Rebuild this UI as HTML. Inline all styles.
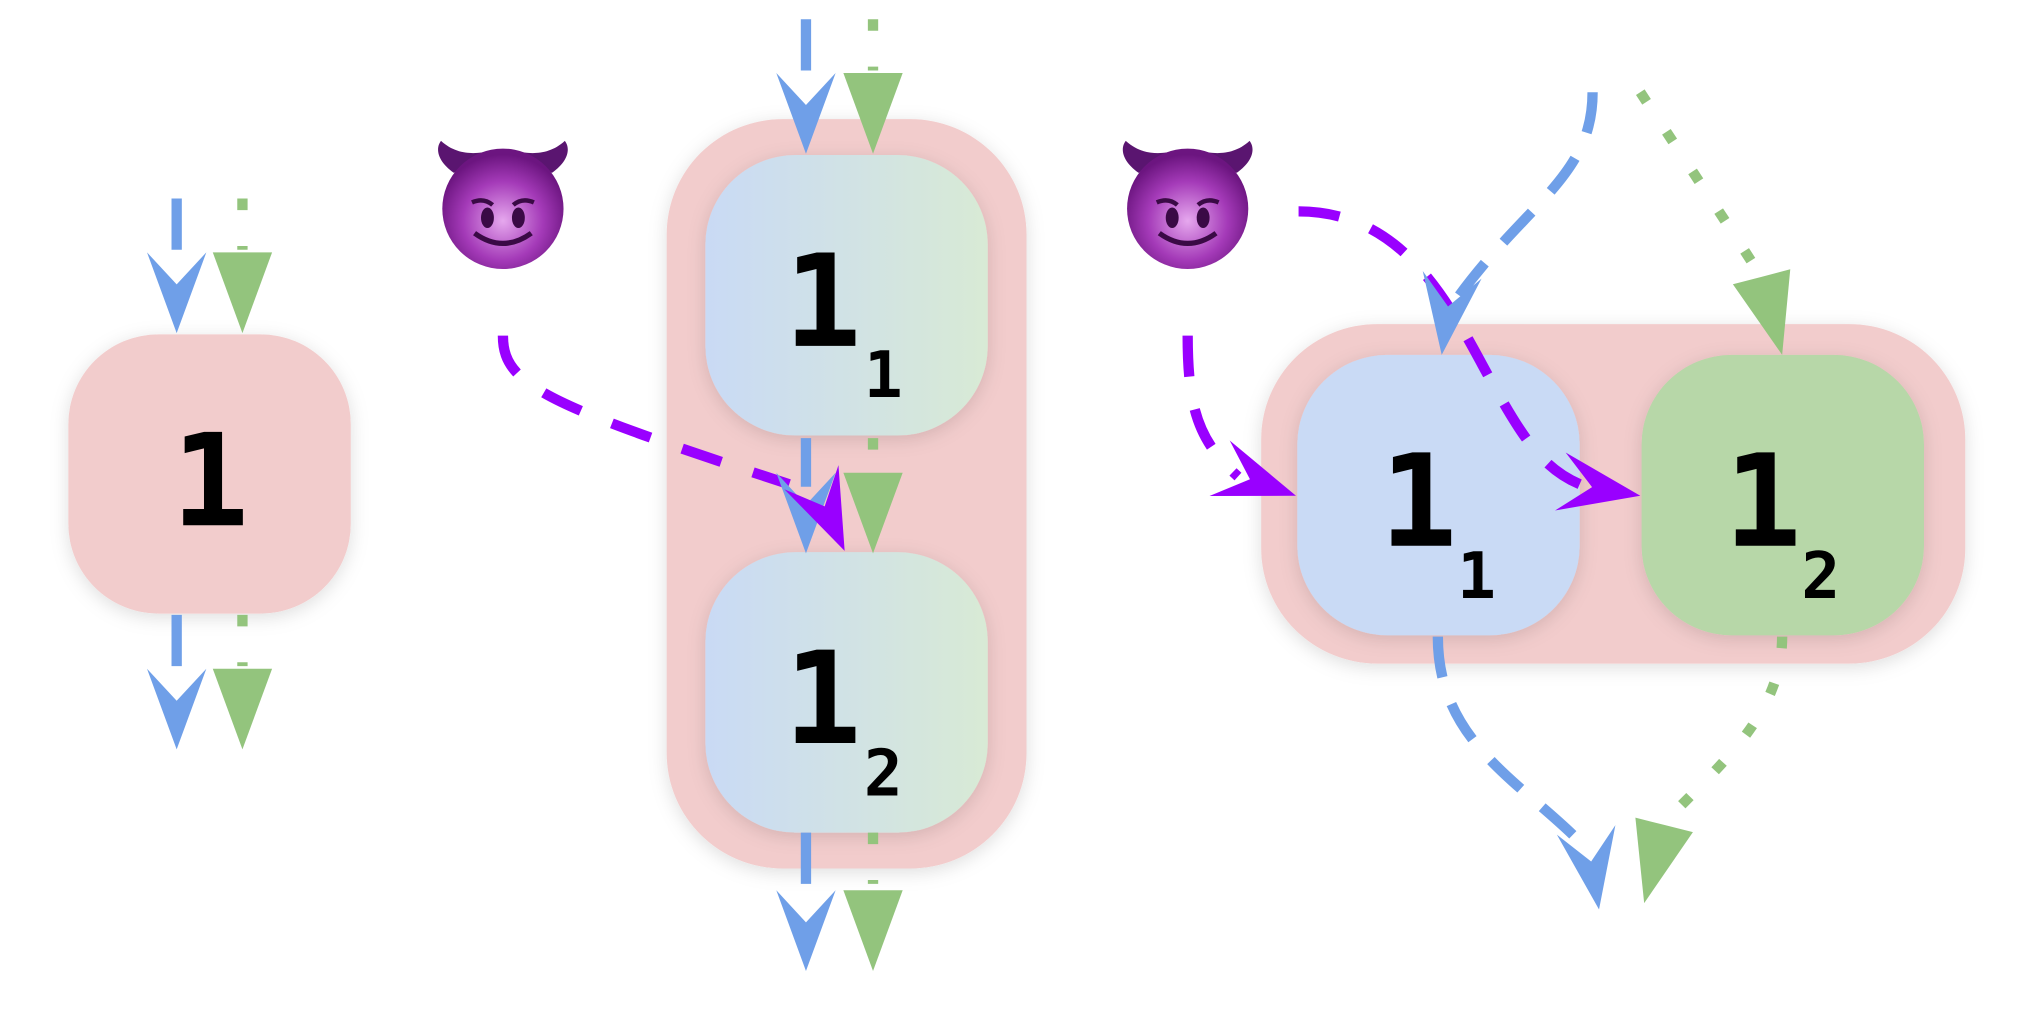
<!DOCTYPE html>
<html><head><meta charset="utf-8"><style>html,body{margin:0;padding:0;background:#fff}svg{display:block}</style></head>
<body>
<svg width="2022" height="1012" viewBox="0 0 1568 790" preserveAspectRatio="none" xmlns="http://www.w3.org/2000/svg">
<defs>
<filter id="sh" x="-20%" y="-20%" width="140%" height="140%"><feDropShadow dx="0" dy="3" stdDeviation="7" flood-color="#000" flood-opacity="0.13"/></filter>
<linearGradient id="bg" x1="0" x2="1" y1="0" y2="0"><stop offset="0" stop-color="#c9daf5"/><stop offset="1" stop-color="#d8ead5"/></linearGradient>
<radialGradient id="dv" cx="0.5" cy="0.6" r="0.55"><stop offset="0" stop-color="#e6a8ee"/><stop offset="0.6" stop-color="#a43ab8"/><stop offset="1" stop-color="#6c1580"/></radialGradient>
</defs>
<g font-family="'DejaVu Sans Mono','Liberation Mono',monospace" font-weight="bold" fill="#000">
<rect x="53" y="261" width="219" height="218" rx="70" fill="#f2cccc" filter="url(#sh)"/>
<text x="163" y="410" font-size="100" text-anchor="middle">1</text>
<rect x="517" y="93" width="279" height="585" rx="90" fill="#f2cccc" filter="url(#sh)"/>
<rect x="547" y="121" width="219" height="219" rx="70" fill="url(#bg)" filter="url(#sh)"/>
<rect x="547" y="431" width="219" height="219" rx="70" fill="url(#bg)" filter="url(#sh)"/>
<text x="638" y="270" font-size="100" text-anchor="middle">1</text>
<text x="685" y="310" font-size="50" text-anchor="middle">1</text>
<text x="638" y="580" font-size="100" text-anchor="middle">1</text>
<text x="685" y="621" font-size="50" text-anchor="middle">2</text>
<rect x="978" y="253" width="546" height="265" rx="90" fill="#f2cccc" filter="url(#sh)"/>
<rect x="1006" y="277" width="219" height="219" rx="70" fill="#c9daf5" filter="url(#sh)"/>
<rect x="1273" y="277" width="219" height="219" rx="70" fill="#b7d7a8" filter="url(#sh)"/>
<text x="1100" y="426" font-size="100" text-anchor="middle">1</text>
<text x="1145" y="467" font-size="50" text-anchor="middle">1</text>
<text x="1367" y="426" font-size="100" text-anchor="middle">1</text>
<text x="1412" y="467" font-size="50" text-anchor="middle">2</text>
</g>
<g fill="none" stroke-width="8">
<path d="M137,155 V195 M137,480 V520 M625,15 V55 M625,342 V380 M625,650 V690" stroke="#6f9fe8"/>
<path d="M188,155 V195 M188,480 V520 M677,15 V55 M677,342 V380 M677,650 V690" stroke="#93c47d" stroke-dasharray="9 28"/>
<path d="M1235,72 C1235,140 1180,160 1125,240" stroke="#6f9fe8" stroke-dasharray="32 22"/>
<path d="M1272,72 C1300,115 1330,160 1362,210" stroke="#93c47d" stroke-dasharray="9 28"/>
<path d="M1115,497 C1115,580 1180,610 1228,660" stroke="#6f9fe8" stroke-dasharray="32 22"/>
<path d="M1382,497 C1382,560 1330,600 1288,645" stroke="#93c47d" stroke-dasharray="9 28"/>
<path d="M390,262 C390,300 420,315 612,378" stroke="#9900ff" stroke-dasharray="32 26"/>
<path d="M921,262 C921,320 930,345 960,372" stroke="#9900ff" stroke-dasharray="32 26"/>
<path d="M1007,165 C1090,165 1125,240 1155,295 C1180,340 1195,365 1225,378" stroke="#9900ff" stroke-dasharray="32 26"/>
</g>
<g id="heads"></g>
<g transform="translate(390,160)">
<path d="M-38,-25 C-52,-35 -52,-45 -48,-50 C-35,-38 -20,-40 -10,-42 Z M38,-25 C52,-35 52,-45 48,-50 C35,-38 20,-40 10,-42 Z" fill="#5a1570"/>
<ellipse cx="0" cy="3" rx="47" ry="47" fill="url(#dv)"/>
<ellipse cx="-12" cy="10" rx="5" ry="8" fill="#3a0a45"/><ellipse cx="12" cy="10" rx="5" ry="8" fill="#3a0a45"/>
<path d="M-24,-2 Q-15,-6 -8,0 M24,-2 Q15,-6 8,0" stroke="#3a0a45" stroke-width="3.5" fill="none"/>
<path d="M-22,22 Q0,38 22,22" stroke="#3a0a45" stroke-width="4" fill="none"/>
</g>
<g transform="translate(921,160)">
<path d="M-38,-25 C-52,-35 -52,-45 -48,-50 C-35,-38 -20,-40 -10,-42 Z M38,-25 C52,-35 52,-45 48,-50 C35,-38 20,-40 10,-42 Z" fill="#5a1570"/>
<ellipse cx="0" cy="3" rx="47" ry="47" fill="url(#dv)"/>
<ellipse cx="-12" cy="10" rx="5" ry="8" fill="#3a0a45"/><ellipse cx="12" cy="10" rx="5" ry="8" fill="#3a0a45"/>
<path d="M-24,-2 Q-15,-6 -8,0 M24,-2 Q15,-6 8,0" stroke="#3a0a45" stroke-width="3.5" fill="none"/>
<path d="M-22,22 Q0,38 22,22" stroke="#3a0a45" stroke-width="4" fill="none"/>
</g>
<script>
var NS='http://www.w3.org/2000/svg';
var heads=document.getElementById('heads');
var headTips=[[137,260,0,1,'#6f9fe8',38],[188,260,0,1,'#93c47d',63],[137,585,0,1,'#6f9fe8',38],[188,585,0,1,'#93c47d',63],
[625,120,0,1,'#6f9fe8',38],[677,120,0,1,'#93c47d',63],[625,432,0,1,'#6f9fe8',38],[677,432,0,1,'#93c47d',63],
[625,758,0,1,'#6f9fe8',38],[677,758,0,1,'#93c47d',63],
[1118,277,-8,62,'#6f9fe8',38],[1382,277,16,61,'#93c47d',63],[1240,710,10,62,'#6f9fe8',38],[1275,705,-15,59,'#93c47d',63],
[655,430,26,58,'#9900ff',38],[1005,387,58,21,'#9900ff',38],[1272,387,61,11,'#9900ff',38]];
headTips.forEach(function(h){
  var L=Math.hypot(h[2],h[3]),ux=h[2]/L,uy=h[3]/L,px=-uy,py=ux,len=63,w=23;
  var bx=h[0]-ux*len,by=h[1]-uy*len;
  var pts=[[h[0],h[1]],[bx+px*w,by+py*w],[h[0]-ux*h[5],h[1]-uy*h[5]],[bx-px*w,by-py*w]];
  var p=document.createElementNS(NS,'polygon');
  p.setAttribute('points',pts.map(function(q){return q[0].toFixed(1)+','+q[1].toFixed(1)}).join(' '));
  p.setAttribute('fill',h[4]);
  
  
  heads.appendChild(p);
});
</script>
</svg>
</body></html>
